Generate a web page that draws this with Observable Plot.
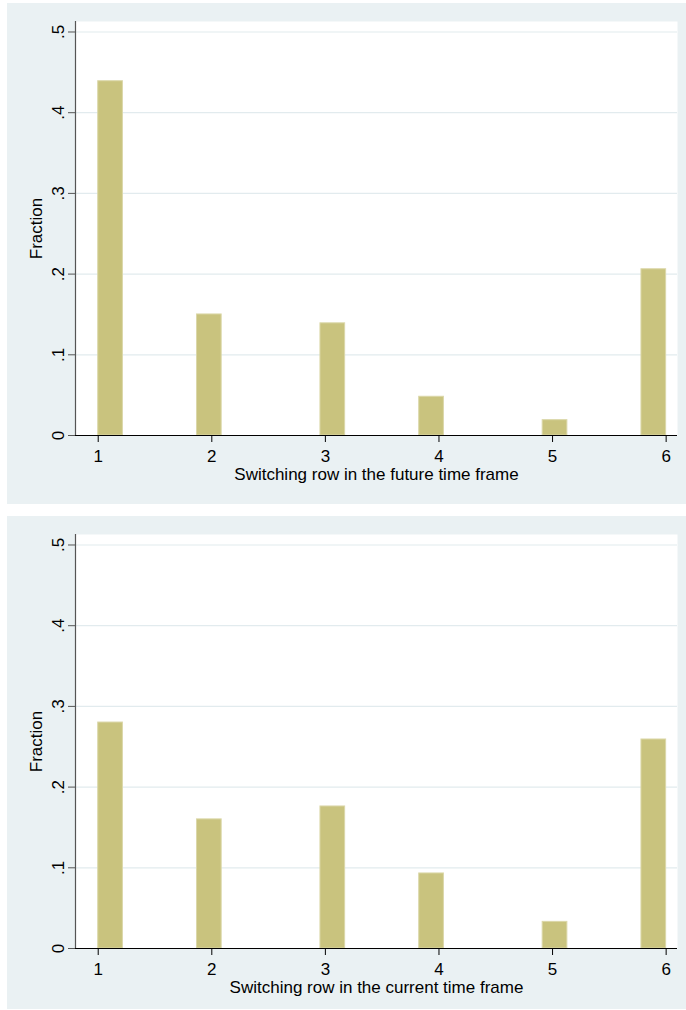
<!DOCTYPE html>
<html><head><meta charset="utf-8">
<script src="https://cdn.jsdelivr.net/npm/d3@7"></script>
<script src="https://cdn.jsdelivr.net/npm/@observablehq/plot@0.6"></script>
<style>
body{margin:0;background:#fff;width:686px;height:1010px;overflow:hidden;position:relative;font-family:"Liberation Sans",Arial,sans-serif;}
.panel{position:absolute;left:7px;width:679px;background:#EAF1F3;}
.panel svg{display:block;}
</style></head><body>
<div id="p1" class="panel" style="top:3px;height:501px"></div>
<div id="p2" class="panel" style="top:516px;height:493px"></div>
<script>
const rows = [1, 2, 3, 4, 5, 6];
const futureFraction = [0.439, 0.150, 0.139, 0.048, 0.019, 0.206];
const currentFraction = [0.280, 0.160, 0.176, 0.093, 0.033, 0.259];
const yTicks = [0, 0.1, 0.2, 0.3, 0.4, 0.5];
const yTickLabels = ["0", ".1", ".2", ".3", ".4", ".5"];
const xTicks = [1, 2, 3, 4, 5, 6];
const xTitles = ["Switching row in the future time frame", "Switching row in the current time frame"];
const yTitle = "Fraction";
// Stata histogram: 23 bins spanning [1, 6]
const nBins = 23, binStart = 1, binEnd = 6;

function histData(fracs) {
  const w = (binEnd - binStart) / nBins;
  return rows.map((r, i) => {
    const k = Math.min(nBins - 1, Math.floor((r - binStart) / w + 1e-9));
    return {row: r, x1: binStart + k * w, x2: binStart + (k + 1) * w, fraction: fracs[i]};
  });
}

const FS = 17;

function chart(fracs, title, height, marginBottom) {
  const data = histData(fracs);
  return Plot.plot({
    width: 679, height,
    marginLeft: 68, marginRight: 9, marginTop: 18, marginBottom,
    style: {background: "transparent", fontFamily: '"Liberation Sans", Arial, sans-serif', fontSize: FS + "px", color: "#000", overflow: "visible"},
    x: {domain: [0.8, 6.1], label: null},
    y: {domain: [0, 0.513], label: null},
    marks: [
      Plot.frame({fill: "white", stroke: null}),
      Plot.gridY({ticks: yTicks.slice(1), stroke: "#E2EBEE", strokeOpacity: 1, strokeWidth: 1.2}),
      Plot.rectY(data, {x1: "x1", x2: "x2", y: "fraction", fill: "#C9C37E", stroke: "#DBD7A9", strokeWidth: 1, inset: 0}),
      Plot.ruleX([0.8], {stroke: "#555", strokeWidth: 1.2}),
      Plot.ruleY([0], {stroke: "#000", strokeWidth: 1.2}),
      Plot.axisY({ticks: yTicks, tickSize: 7, tickFormat: () => "", stroke: "#555", label: null}),
      Plot.axisX({ticks: xTicks, tickSize: 7, tickFormat: () => "", stroke: "#000", label: null}),
      Plot.text(yTicks, {x: 0.8, y: d => d, text: (d, i) => yTickLabels[i], rotate: -90, dx: -17, textAnchor: "middle", lineAnchor: "middle", fontSize: FS, fill: "#000"}),
      Plot.text(xTicks, {x: d => d, frameAnchor: "bottom", text: d => String(d), dy: 21, textAnchor: "middle", lineAnchor: "middle", fontSize: FS, fill: "#000"}),
      Plot.text([title], {frameAnchor: "bottom", text: d => d, dy: 39, textAnchor: "middle", lineAnchor: "middle", fontSize: FS, fill: "#000"}),
      Plot.text([yTitle], {frameAnchor: "left", text: d => d, rotate: -90, dx: -39, textAnchor: "middle", lineAnchor: "middle", fontSize: FS, fill: "#000"})
    ]
  });
}

document.getElementById("p1").appendChild(chart(futureFraction, xTitles[0], 501, 69));
document.getElementById("p2").appendChild(chart(currentFraction, xTitles[1], 493, 61));
</script>
</body></html>
